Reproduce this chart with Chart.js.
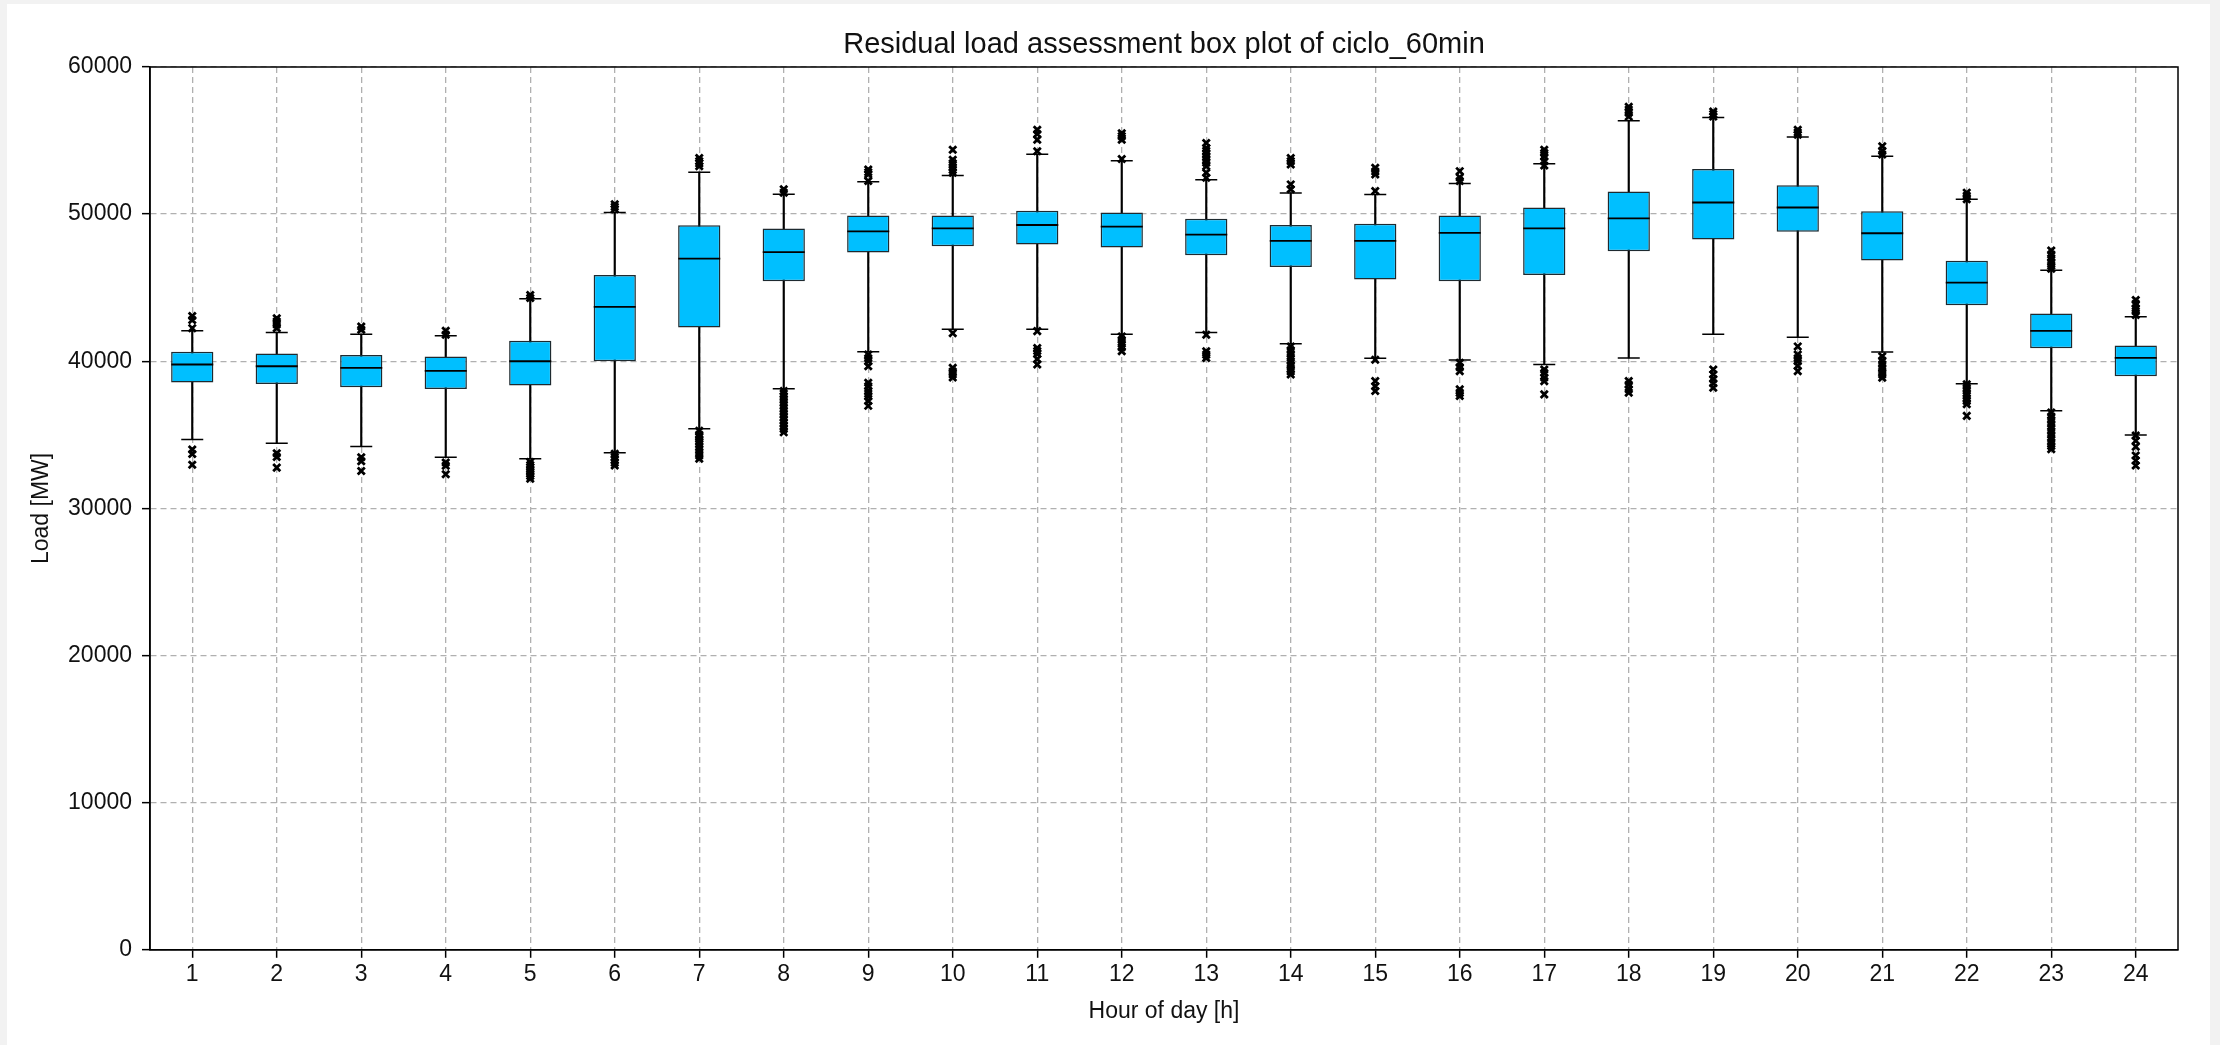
<!DOCTYPE html>
<html>
<head>
<meta charset="utf-8">
<script src="https://cdn.jsdelivr.net/npm/chart.js@4.4.1/dist/chart.umd.min.js"></script>
<style>
  html, body { margin: 0; padding: 0; width: 2220px; height: 1045px; overflow: hidden; background: #f2f2f2; }
  #panel { position: absolute; left: 7px; top: 4px; width: 2203px; height: 1041px; background: #ffffff; }
  #chart { position: absolute; left: 0; top: 0; }
</style>
</head>
<body>
<div id="panel"></div>
<canvas id="chart" width="2220" height="1045"></canvas>
<script>
// ---- Data ----
const hours = ['1','2','3','4','5','6','7','8','9','10','11','12','13','14','15','16','17','18','19','20','21','22','23','24'];

const whiskerLow  = [34680, 34430, 34200, 33480, 33370, 33780, 35420, 38140, 40650, 42180, 42180, 41840, 41960, 41190, 40200, 40090, 39780, 40230, 41840, 41640, 40630, 38470, 36630, 34990];
const q1          = [38560, 38450, 38230, 38110, 38360, 40000, 42290, 45440, 47390, 47820, 47930, 47730, 47210, 46400, 45550, 45440, 45870, 47480, 48270, 48810, 46850, 43800, 40880, 38990];
const median      = [39780, 39660, 39550, 39350, 40000, 43690, 46970, 47420, 48830, 49030, 49260, 49150, 48610, 48180, 48180, 48720, 49030, 49710, 50790, 50450, 48700, 45350, 42070, 40230];
const q3          = [40650, 40520, 40430, 40320, 41390, 45870, 49240, 49030, 49910, 49910, 50230, 50110, 49690, 49260, 49350, 49910, 50450, 51530, 53060, 51960, 50200, 46830, 43240, 41080];
const whiskerHigh = [42070, 41960, 41840, 41730, 44250, 50110, 52850, 51350, 52200, 52630, 54070, 53620, 52340, 51440, 51330, 52090, 53420, 56340, 56560, 55240, 53930, 51010, 46180, 43030];

const outliersHigh = [
  [42250, 42800, 43080],
  [42250, 42500, 42700, 42920],
  [42140, 42360],
  [41800, 42070],
  [44300, 44500],
  [50340, 50500, 50670],
  [53260, 53450, 53600, 53820],
  [51460, 51690],
  [52250, 52700, 52850, 53030],
  [52810, 53000, 53200, 53450, 53700, 54380],
  [54270, 55060, 55450, 55730],
  [53750, 55060, 55300, 55500],
  [52470, 52810, 53260, 53500, 53700, 53900, 54100, 54300, 54500, 54830],
  [51690, 52020, 53370, 53600, 53820],
  [51570, 52700, 52900, 53150],
  [52250, 52500, 52920],
  [53300, 53600, 53900, 54150, 54380],
  [56630, 56900, 57100, 57300],
  [56630, 56800, 56970],
  [55390, 55550, 55730],
  [54050, 54300, 54610],
  [51010, 51250, 51460],
  [46290, 46500, 46750, 47000, 47250, 47530],
  [43150, 43400, 43600, 43900, 44160]
];
const outliersLow = [
  [34000, 33700, 32970],
  [33750, 33500, 32770],
  [33480, 33200, 32540],
  [33120, 32900, 32320],
  [33150, 32950, 32800, 32650, 32500, 32350, 32200, 32020],
  [33710, 33500, 33300, 33100, 32920],
  [35280, 35000, 34850, 34700, 34550, 34400, 34200, 34000, 33800, 33600, 33370],
  [37980, 37800, 37600, 37400, 37200, 37000, 36800, 36600, 36400, 36200, 36000, 35800, 35600, 35400, 35170],
  [40450, 40200, 40000, 39660, 38540, 38300, 38000, 37800, 37600, 37300, 36970],
  [41910, 39550, 39300, 39100, 38900],
  [42050, 40900, 40700, 40500, 40150, 39780],
  [41690, 41450, 41200, 40950, 40680],
  [41800, 40680, 40450, 40230],
  [41010, 40750, 40500, 40250, 40000, 39750, 39500, 39300, 39100],
  [40100, 38650, 38300, 37980],
  [39890, 39600, 39330, 38090, 37850, 37640],
  [39440, 39200, 38900, 38650, 37750],
  [38650, 38400, 38100, 37870],
  [39440, 39100, 38800, 38500, 38200],
  [41010, 40450, 40200, 40000, 39700, 39330],
  [40340, 40050, 39800, 39550, 39300, 39100, 38880],
  [38430, 38200, 38000, 37750, 37500, 37300, 37080, 36290],
  [36520, 36250, 36000, 35750, 35500, 35250, 35000, 34750, 34500, 34250, 34030],
  [34950, 34600, 34200, 33600, 33250, 32920]
];

const yTicks = [0, 10000, 20000, 30000, 40000, 50000, 60000];

// ---- Derived datasets ----
const whiskerData = hours.map((h, i) => [whiskerLow[i], whiskerHigh[i]]);
const boxData = hours.map((h, i) => [q1[i], q3[i]]);
const medianData = hours.map((h, i) => ({ x: h, y: median[i] }));
const capData = [];
hours.forEach((h, i) => { capData.push({ x: h, y: whiskerLow[i] }); capData.push({ x: h, y: whiskerHigh[i] }); });
const outlierData = [];
hours.forEach((h, i) => {
  outliersHigh[i].forEach(v => outlierData.push({ x: h, y: v }));
  outliersLow[i].forEach(v => outlierData.push({ x: h, y: v }));
});

const FONT = "'Liberation Sans', Arial, Helvetica, sans-serif";
Chart.defaults.font.family = FONT;
Chart.defaults.color = '#111111';

const frame = {
  id: 'frame',
  afterDraw(chart) {
    const a = chart.chartArea, ctx = chart.ctx;
    ctx.save();
    ctx.strokeStyle = '#000000';
    ctx.lineWidth = 1.5;
    ctx.strokeRect(a.left, a.top, a.right - a.left, a.bottom - a.top);
    ctx.restore();
  }
};

new Chart(document.getElementById('chart'), {
  type: 'bar',
  data: {
    labels: hours,
    datasets: [
      {
        type: 'bar', label: 'whiskers', data: whiskerData, order: 5, grouped: false,
        barThickness: 1.5, backgroundColor: '#000000', borderWidth: 0
      },
      {
        type: 'bar', label: 'box', data: boxData, order: 4, grouped: false,
        barPercentage: 0.5, categoryPercentage: 1.0,
        backgroundColor: '#00bfff', borderColor: '#1e2a30', borderWidth: 1.5, borderSkipped: false
      },
      {
        type: 'line', label: 'median', data: medianData, order: 3, showLine: false,
        pointStyle: 'line', pointRadius: 21, pointHoverRadius: 21,
        pointBorderColor: '#000000', pointBorderWidth: 1.8
      },
      {
        type: 'line', label: 'caps', data: capData, order: 2, showLine: false,
        pointStyle: 'line', pointRadius: 11, pointHoverRadius: 11,
        pointBorderColor: '#000000', pointBorderWidth: 1.5
      },
      {
        type: 'line', label: 'outliers', data: outlierData, order: 1, showLine: false,
        pointStyle: 'crossRot', pointRadius: 5, pointHoverRadius: 5,
        pointBorderColor: '#000000', pointBorderWidth: 2.8
      }
    ]
  },
  options: {
    responsive: false,
    animation: false,
    devicePixelRatio: 1,
    layout: { padding: { left: 0, right: 42, top: 0, bottom: 20 } },
    plugins: {
      legend: { display: false },
      tooltip: { enabled: false },
      title: {
        display: true,
        text: 'Residual load assessment box plot of ciclo_60min',
        fullSize: false,
        color: '#111111',
        font: { family: FONT, size: 29, weight: 'normal' },
        padding: { top: 27.6, bottom: 4.6 }
      }
    },
    scales: {
      x: {
        type: 'category',
        offset: true,
        grid: {
          offset: false, color: '#b0b0b0', lineWidth: 1.3,
          drawTicks: true, tickLength: 8, tickColor: '#000000', tickWidth: 1.5
        },
        border: { display: true, color: '#000000', width: 1.5, dash: [6, 4] },
        ticks: { padding: 3, font: { family: FONT, size: 23 }, color: '#111111', maxRotation: 0 },
        title: {
          display: true, text: 'Hour of day [h]', color: '#111111',
          font: { family: FONT, size: 23 }, padding: { top: 6, bottom: 0 }
        }
      },
      y: {
        type: 'linear',
        min: 0, max: 60000,
        afterFit(scale) { scale.width = 150; },
        afterBuildTicks(scale) { scale.ticks = yTicks.map(v => ({ value: v })); },
        grid: {
          color: '#b0b0b0', lineWidth: 1.3,
          drawTicks: true, tickLength: 8, tickColor: '#000000', tickWidth: 1.5
        },
        border: { display: true, color: '#000000', width: 1.5, dash: [6, 4] },
        ticks: {
          padding: 10, font: { family: FONT, size: 23 }, color: '#111111',
          callback: v => String(v)
        },
        title: {
          display: true, text: 'Load [MW]', color: '#111111',
          font: { family: FONT, size: 23 }, padding: { top: 28, bottom: 0 }
        }
      }
    }
  },
  plugins: [frame]
});
</script>
</body>
</html>
